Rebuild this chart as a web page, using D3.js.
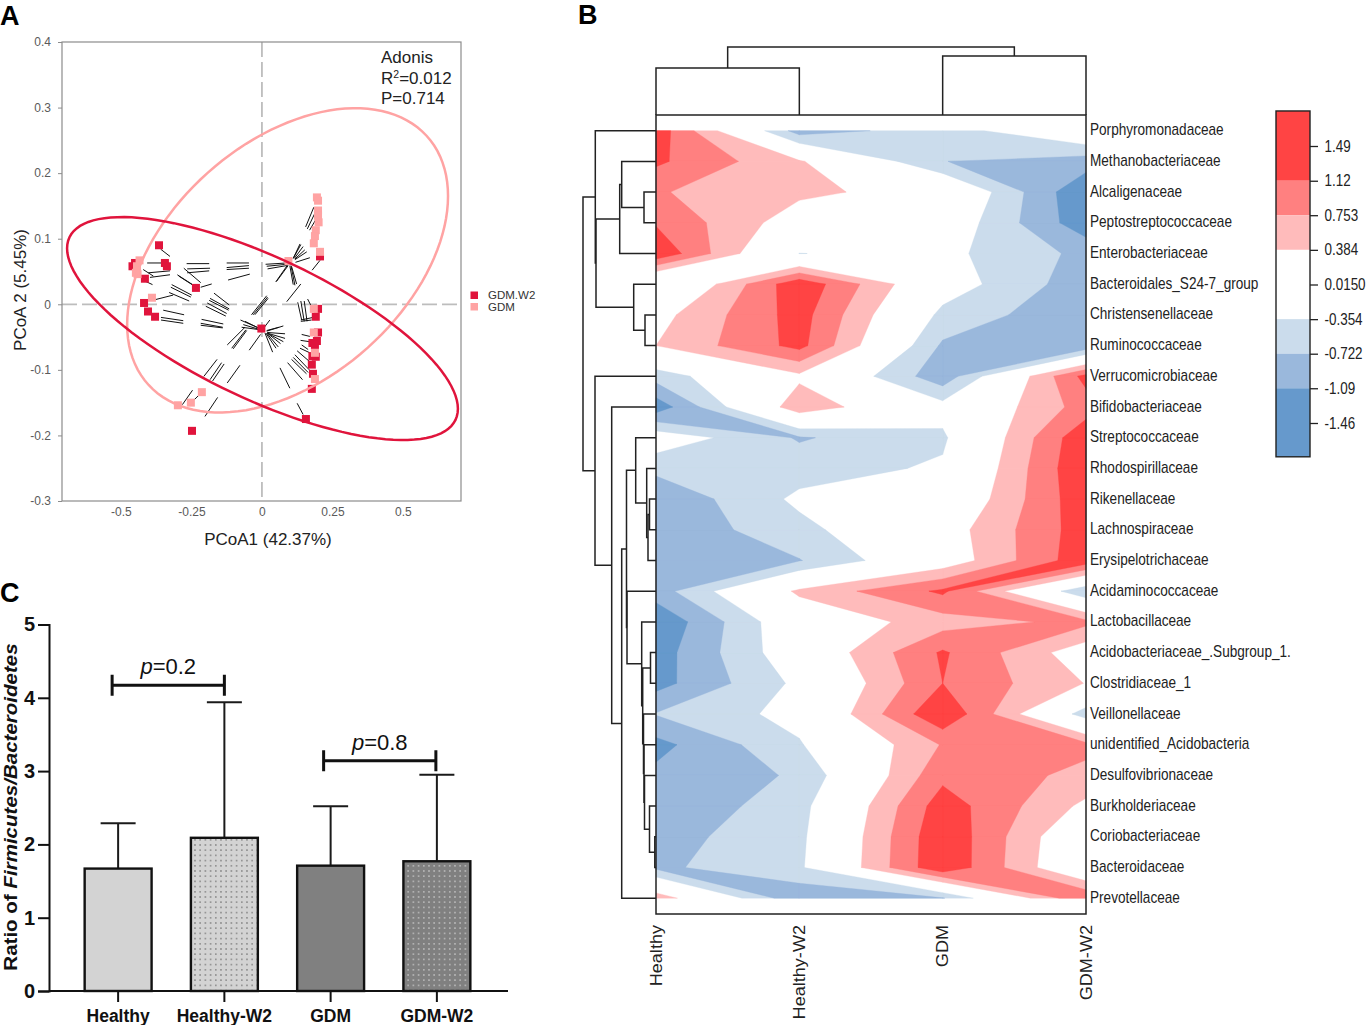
<!DOCTYPE html>
<html><head><meta charset="utf-8">
<style>
html,body{margin:0;padding:0;background:#fff}
svg{display:block}
text{font-family:"Liberation Sans",Arial,sans-serif}
</style>
<script src="https://cdn.jsdelivr.net/npm/d3@7"></script>
</head><body>
<svg id="c" width="1366" height="1025"></svg>
<script>
// ---------- Panel A data (PCoA axes units) ----------
const w2X=[-.365,-.450,-.459,-.344,-.337,-.415,.206,-.234,-.418,-.404,-.379,-.002,.199,.191,.199,.195,.179,.188,.191,.179,.177,.181,.177,.156,-.248];
const w2Y=[.090,.063,.058,.063,.058,.039,.073,.025,.002,-.011,-.019,-.037,-.007,-.019,-.043,-.056,-.059,-.062,-.080,-.079,-.092,-.106,-.129,-.175,-.193];
const gdmX=[.195,.199,.199,.199,.201,.191,.188,.184,.206,.094,-.434,-.443,-.441,-.447,-.390,.184,.184,.188,.188,-.213,-.252,-.298];
const gdmY=[.163,.158,.143,.135,.125,.113,.104,.093,.080,.066,.067,.058,.046,.048,.010,-.007,-.043,-.074,-.114,-.134,-.150,-.154];
const segX1=[-.359,-.407,-.403,-.421,-.397,-.418,-.267,-.265,-.265,-.277,-.300,-.295,-.320,-.323,-.329,-.217,-.379,-.350,-.358,-.358,-.170,-.184,-.187,-.194,-.199,-.214,-.217,-.217,-.125,-.125,-.125,-.120,.111,.111,.115,.117,.117,.119,.013,.017,.020,.049,.052,.111,.117,.123,.088,.178,-.037,-.031,-.025,.162,.127,.138,.150,.138,.138,.155,.161,.169,-.072,-.066,-.076,-.060,-.123,-.107,-.102,-.045,.011,.014,.017,.019,.019,.019,.019,.017,.017,.007,.141,.137,.141,.135,.125,.117,.111,.105,.091,.064,-.206,-.184,-.175,-.123,-.282,-.241,-.202,.125];
const segY1=[.084,.063,.048,.053,.041,.036,.062,.054,.048,.055,.045,.043,.030,.026,.018,.026,.007,-.009,-.020,-.024,.017,.009,.006,.002,-.003,-.023,-.029,-.032,.063,.056,.053,.037,.070,.070,.070,.069,.068,.064,.061,.058,.054,.034,.035,.030,.029,.031,.004,.052,-.016,-.016,-.016,.008,.003,.005,.005,-.024,-.026,.118,.115,.113,-.035,-.031,-.024,-.026,-.062,-.067,-.068,-.070,-.044,-.044,-.044,-.044,-.044,-.044,-.043,-.041,-.040,-.036,-.046,-.055,-.062,-.067,-.071,-.077,-.081,-.084,-.089,-.097,-.110,-.115,-.117,-.120,-.153,-.146,-.171,-.151];
const segX2=[-.326,-.350,-.326,-.385,-.326,-.388,-.187,-.184,-.187,-.217,-.246,-.244,-.249,-.252,-.258,-.178,-.315,-.276,-.279,-.279,-.116,-.116,-.118,-.125,-.128,-.137,-.139,-.139,-.046,-.046,-.046,-.043,.135,.138,.146,.152,.159,.170,.088,.088,.088,.091,.093,.099,.103,.105,.138,.206,.017,.020,.022,.174,.141,.150,.160,.182,.176,.184,.188,.191,-.004,-.004,-.007,-.004,-.060,-.057,-.054,-.005,.038,.050,.058,.066,.076,.082,.082,.076,.061,.028,.170,.168,.164,.170,.168,.168,.164,.158,.144,.099,-.159,-.143,-.134,-.078,-.246,-.222,-.157,.146];
const segY2=[.073,.063,.051,.043,.045,.030,.062,.055,.051,.033,.030,.029,.014,.011,.005,.031,.014,-.016,-.025,-.029,-.001,-.007,-.009,-.014,-.018,-.030,-.035,-.036,.063,.059,.055,.046,.092,.091,.088,.083,.080,.071,.063,.061,.059,.060,.059,.059,.059,.058,.031,.067,.013,.011,.009,-.002,-.024,-.026,-.026,-.020,-.024,.148,.139,.129,-.039,-.039,-.037,-.038,-.035,-.039,-.040,-.046,-.073,-.067,-.065,-.060,-.057,-.052,-.045,-.033,-.035,-.024,-.049,-.057,-.069,-.074,-.087,-.100,-.104,-.106,-.115,-.128,-.084,-.089,-.091,-.093,-.131,-.138,-.142,-.168];
// ellipse parameters in axis units: centre, half extents, phase (degrees)
const ellipseNames=["GDM.W2","GDM"];
const ellipseCx=[.002,.091];
const ellipseCy=[-.037,.067];
const ellipseA=[.693,.569];
const ellipseB=[.170,.232];
const ellipsePhase=[44,115];
const pcoaXTicks=[-.5,-.25,0,.25,.5];
const pcoaXLabels=["-0.5","-0.25","0","0.25","0.5"];
const pcoaYTicks=[.4,.3,.2,.1,0,-.1,-.2,-.3];
const pcoaYLabels=["0.4","0.3","0.2","0.1","0","-0.1","-0.2","-0.3"];

// ---------- Panel B data ----------
const families=["Porphyromonadaceae","Methanobacteriaceae","Alcaligenaceae","Peptostreptococcaceae","Enterobacteriaceae","Bacteroidales_S24-7_group","Christensenellaceae","Ruminococcaceae","Verrucomicrobiaceae","Bifidobacteriaceae","Streptococcaceae","Rhodospirillaceae","Rikenellaceae","Lachnospiraceae","Erysipelotrichaceae","Acidaminococcaceae","Lactobacillaceae","Acidobacteriaceae_.Subgroup_1.","Clostridiaceae_1","Veillonellaceae","unidentified_Acidobacteria","Desulfovibrionaceae","Burkholderiaceae","Coriobacteriaceae","Bacteroidaceae","Prevotellaceae"];
const heatGroups=["Healthy","Healthy-W2","GDM","GDM-W2"];
const healthyZ=[1.35,1.19,.785,1.08,1.44,-.35,.237,.384,-.56,-1.32,-.08,-.62,-1.03,-1.02,-1.02,-.90,-1.41,-1.27,-1.23,-.70,-1.21,-1.0,-1.05,-.88,-.80,.63];
const healthyW2Z=[-.90,.43,.47,.15,-.36,1.40,1.28,1.24,.30,.65,-.76,-.52,-.27,-.47,-.74,.46,.035,-.04,-.26,-.22,-.39,-.675,-.5,-.45,-.42,-1.01];
const gdmZ=[-.54,-.715,.207,-.02,-.25,-.13,-.46,-.78,-.96,-.2,-.42,-.30,-.11,.165,.10,1.19,.58,1.17,1.12,1.46,.78,1.02,1.32,1.43,1.44,-.75];
const gdmW2Z=[.10,-.90,-1.43,-1.33,-.82,-.94,-1.03,-1.0,1.25,.92,1.42,1.47,1.39,1.32,1.37,-.68,.85,.13,.37,-.55,.85,.656,.29,-.10,-.16,1.1];
const redLevels=[.384,.753,1.12];
const redColors=["#FFBBBB","#FF8080","#FF4444"];
const blueLevels=[-.354,-.722,-1.09];
const blueColors=["#CBDCEC","#9AB8DC","#6699CC"];
const barEdges=[1.863,1.12,.753,.384,-.354,-.722,-1.09,-1.82];
const barFills=["#FF4444","#FF8080","#FFBBBB","#FFFFFF","#CBDCEC","#9AB8DC","#6699CC"];
const barTicks=[1.49,1.12,.753,.384,.015,-.354,-.722,-1.09,-1.46];
const barLabels=["1.49","1.12","0.753","0.384","0.0150","-0.354","-0.722","-1.09","-1.46"];
// dendrograms: [merge height, child, child]; a number is a leaf index
const colTree=[68,[47,0,1],[59,2,3]];
const rowTree=[73,
 [60.7,0,[60,[36.3,[34.3,1,[12,2,3]],4],[22.3,5,[11,6,7]]]],
 [61,8,[44.3,9,[34.3,[29.5,[20.3,10,[9.3,11,[8,[6.5,12,13],14]]],
   [29,15,[14.3,16,[13.3,[5.5,17,18],[12.5,19,[12,20,[11.5,21,[6.5,22,[1.2,23,24]]]]]]]]],25]]]];

// ---------- Panel C data ----------
const ratioGroups=["Healthy","Healthy-W2","GDM","GDM-W2"];
const ratioMean=[1.67,2.09,1.71,1.77];
const ratioUpper=[2.29,3.94,2.52,2.95];
const ratioFills=["#D3D3D3","url(#dotDark)","#808080","url(#dotLight)"];
const ratioTicks=[0,1,2,3,4,5];
const pairLabels=["0.2","0.8"];
const pairFrom=["Healthy","GDM"];
const pairTo=["Healthy-W2","GDM-W2"];
const pairLevel=[4.17,3.14];
const pairOffset=[-6,-7];

const svg=d3.select("#c");
const font="'Liberation Sans',Arial,sans-serif";
const defs=svg.append("defs");
[["dotDark","#D3D3D3","#333",.62],["dotLight","#808080","#fff",.62]].forEach(([id,bg,fg,r])=>{
  const p=defs.append("pattern").attr("id",id).attr("width",5.2).attr("height",5.2).attr("patternUnits","userSpaceOnUse");
  p.append("rect").attr("width",5.2).attr("height",5.2).attr("fill",bg);
  p.append("circle").attr("cx",2.6).attr("cy",2.6).attr("r",r).attr("fill",fg);
});

// panel letters
[["A",0,25],["B",578,24],["C",0,602]].forEach(([t,x,y])=>svg.append("text").attr("x",x).attr("y",y).attr("font-size",27).attr("font-weight","bold").attr("fill","#000").text(t));

// ========== A ==========
(function(){
  const x=d3.scaleLinear().domain([-.709,.706]).range([62,461]);
  const y=d3.scaleLinear().domain([-.3,.4]).range([501,42]);
  const g=svg.append("g");
  g.append("line").attr("x1",x(0)).attr("x2",x(0)).attr("y1",42).attr("y2",501).attr("stroke","#BDBDBD").attr("stroke-width",1.8).attr("stroke-dasharray","15 5");
  g.append("line").attr("x1",62).attr("x2",461).attr("y1",y(0)).attr("y2",y(0)).attr("stroke","#BDBDBD").attr("stroke-width",1.8).attr("stroke-dasharray","15 5");
  g.append("g").selectAll("line").data(d3.range(segX1.length)).join("line")
    .attr("x1",i=>x(segX1[i])).attr("y1",i=>y(segY1[i])).attr("x2",i=>x(segX2[i])).attr("y2",i=>y(segY2[i]))
    .attr("stroke","#111").attr("stroke-width",1);
  const s=8;
  g.append("g").selectAll("rect").data(d3.range(w2X.length)).join("rect")
    .attr("x",i=>x(w2X[i])-s/2).attr("y",i=>y(w2Y[i])-s/2).attr("width",s).attr("height",s).attr("fill","#E0143C");
  g.append("g").selectAll("rect").data(d3.range(gdmX.length)).join("rect")
    .attr("x",i=>x(gdmX[i])-s/2).attr("y",i=>y(gdmY[i])-s/2).attr("width",s).attr("height",s).attr("fill","#FFA3A3");
  const eCols=["#E0143C","#FFA3A3"];
  const angles=d3.range(0,361,3);
  [1,0].forEach(k=>{
    const ph=ellipsePhase[k]*Math.PI/180;
    const ln=d3.line().x(t=>x(ellipseCx[k]+ellipseA[k]*Math.cos(t*Math.PI/180))).y(t=>y(ellipseCy[k]-ellipseB[k]*Math.cos(t*Math.PI/180+ph)));
    g.append("path").attr("d",ln(angles)).attr("fill","none").attr("stroke",eCols[k]).attr("stroke-width",2.5);
  });
  g.append("rect").attr("x",62).attr("y",42).attr("width",399).attr("height",459).attr("fill","none").attr("stroke","#8c8c8c").attr("stroke-width",1.2);
  const ay=g.append("g").attr("transform","translate(62,0)").call(d3.axisLeft(y).tickValues(pcoaYTicks).tickFormat((d,i)=>pcoaYLabels[i]).tickSize(4).tickPadding(7));
  ay.select(".domain").remove();
  const ax=g.append("g").attr("transform","translate(0,501)").call(d3.axisBottom(x).tickValues(pcoaXTicks).tickFormat((d,i)=>pcoaXLabels[i]).tickSize(0).tickPadding(6));
  ax.select(".domain").remove();
  [ay,ax].forEach(a=>{a.selectAll("text").attr("fill","#5a5a5a").attr("font-size",12).attr("font-family",font);a.selectAll("line").attr("stroke","#8c8c8c");});
  const tx=(t,xx,yy,fs,col)=>g.append("text").attr("x",xx).attr("y",yy).attr("font-size",fs).attr("fill",col||"#222").text(t);
  tx("Adonis",381,62.5,17);
  const r2=g.append("text").attr("x",381).attr("y",83.5).attr("font-size",17).attr("fill","#222");
  r2.append("tspan").text("R");r2.append("tspan").attr("font-size",10.5).attr("dy",-6).text("2");r2.append("tspan").attr("dy",6).text("=0.012");
  tx("P=0.714",381,104,17);
  g.append("text").attr("x",268).attr("y",545).attr("text-anchor","middle").attr("font-size",17).attr("fill","#222").text("PCoA1 (42.37%)");
  g.append("text").attr("transform","translate(26,290) rotate(-90)").attr("text-anchor","middle").attr("font-size",17).attr("fill","#222").text("PCoA 2 (5.45%)");
  ellipseNames.forEach((n,i)=>{
    g.append("rect").attr("x",470.5).attr("y",291.5+11.5*i).attr("width",7.5).attr("height",7.5).attr("fill",eCols[i]);
    g.append("text").attr("x",488).attr("y",299+11.5*i).attr("font-size",11.5).attr("fill","#333").text(n);
  });
})();

// ========== B ==========
(function(){
  const nx=heatGroups.length, ny=families.length;
  const colX=d3.scaleLinear().domain([0,nx-1]).range([656,1086]);
  const rowY=d3.scaleLinear().domain([0,ny-1]).range([130.7,898.2]);
  const cols=[healthyZ,healthyW2Z,gdmZ,gdmW2Z];
  const ln=d3.line().x(p=>colX(p[0])).y(p=>rowY(p[1]));

  // marching squares, one polygon set per cell; ambiguous cells join the diagonal whose ends differ least
  function cellPolys(i,j,sign,t){
    const c=[[i,j],[i+1,j],[i+1,j+1],[i,j+1]];
    const v=c.map(p=>sign*cols[p[0]][p[1]]);
    const hi=v.map(a=>a>=t);
    const cross=(a,b)=>{const f=(t-v[a])/(v[b]-v[a]);return [c[a][0]+f*(c[b][0]-c[a][0]),c[a][1]+f*(c[b][1]-c[a][1])];};
    const saddle=hi[0]===hi[2]&&hi[1]===hi[3]&&hi[0]!==hi[1];
    if(saddle){
      const mainJoin=Math.abs(v[0]-v[2])<=Math.abs(v[1]-v[3]);
      if(hi[0]!==mainJoin){
        const ks=hi[0]?[0,2]:[1,3];
        return ks.map(k=>[cross(k,(k+3)%4),c[k],cross(k,(k+1)%4)]);
      }
    }
    const pts=[];
    for(let k=0;k<4;k++){
      const n=(k+1)%4;
      if(hi[k]) pts.push(c[k]);
      if(hi[k]!==hi[n]) pts.push(cross(k,n));
    }
    return pts.length>2?[pts]:[];
  }
  function levelPath(sign,t){
    let d="";
    for(let i=0;i<nx-1;i++) for(let j=0;j<ny-1;j++)
      cellPolys(i,j,sign,t).forEach(p=>{d+=ln(p)+"Z";});
    return d;
  }
  const g=svg.append("g");
  redLevels.forEach((t,i)=>g.append("path").attr("d",levelPath(1,t)).attr("fill",redColors[i]).attr("stroke",redColors[i]).attr("stroke-width",.35));
  blueLevels.forEach((t,i)=>g.append("path").attr("d",levelPath(-1,-t)).attr("fill",blueColors[i]).attr("stroke",blueColors[i]).attr("stroke-width",.35));
  svg.append("rect").attr("x",656).attr("y",115).attr("width",430).attr("height",799).attr("fill","none").attr("stroke","#222").attr("stroke-width",1.5);

  // row labels
  svg.append("g").selectAll("text").data(families).join("text")
    .attr("transform",(d,i)=>`translate(1090,${rowY(i)+4.5}) scale(.85,1)`).attr("font-size",16).attr("fill","#222").text(d=>d);
  // column labels
  svg.append("g").selectAll("text").data(heatGroups).join("text")
    .attr("transform",(d,i)=>`translate(${colX(i)+5.5},925) rotate(-90) scale(1.13,1)`).attr("text-anchor","end").attr("font-size",16).attr("fill","#222").text(d=>d);

  // dendrograms
  const rh=d3.scaleLinear().domain([0,73]).range([656,583]);
  const ch=d3.scaleLinear().domain([0,68]).range([115,47]);
  const lineGen=d3.line();
  function walk(node,pos,hs,out,flip){
    if(typeof node==="number") return {p:pos(node),h:hs(0)};
    const a=walk(node[1],pos,hs,out,flip), b=walk(node[2],pos,hs,out,flip), h=hs(node[0]);
    const pts=[[a.h,a.p],[h,a.p],[h,b.p],[b.h,b.p]];
    out.push(flip?pts.map(q=>[q[1],q[0]]):pts);
    return {p:(a.p+b.p)/2,h};
  }
  const rowSegs=[],colSegs=[];
  walk(rowTree,rowY,rh,rowSegs,false);
  walk(colTree,colX,ch,colSegs,true);
  svg.append("g").selectAll("path").data(rowSegs.concat(colSegs)).join("path").attr("d",lineGen).attr("fill","none").attr("stroke","#222").attr("stroke-width",1.5);

  // colour key
  const ky=d3.scaleLinear().domain([1.49,-1.46]).range([146,423]);
  const k=svg.append("g");
  k.selectAll("rect").data(barFills).join("rect").attr("x",1276).attr("width",34)
    .attr("y",(d,i)=>ky(barEdges[i])).attr("height",(d,i)=>ky(barEdges[i+1])-ky(barEdges[i])).attr("fill",d=>d);
  k.append("rect").attr("x",1276).attr("y",ky(barEdges[0])).attr("width",34).attr("height",ky(barEdges[7])-ky(barEdges[0])).attr("fill","none").attr("stroke","#222").attr("stroke-width",1.4);
  const ka=k.append("g").attr("transform","translate(1310,0)").call(d3.axisRight(ky).tickValues(barTicks).tickFormat((d,i)=>barLabels[i]).tickSize(8).tickPadding(7));
  ka.select(".domain").remove();
  ka.selectAll("line").attr("stroke","#222").attr("stroke-width",1.3);
  ka.selectAll("text").attr("font-size",16).attr("font-family",font).attr("fill","#222").attr("x",14.5/.84).attr("transform","scale(.84,1)");
})();

// ========== C ==========
(function(){
  const y=d3.scaleLinear().domain([0,5]).range([991,624.5]);
  const x=d3.scaleBand().domain(ratioGroups).range([65,490]).paddingInner(.37).paddingOuter(.185);
  const g=svg.append("g");
  const cx=d=>x(d)+x.bandwidth()/2;
  // error bars
  const e=g.append("g").selectAll("g").data(ratioGroups).join("g");
  e.append("line").attr("x1",cx).attr("x2",cx).attr("y1",(d,i)=>y(ratioMean[i])).attr("y2",(d,i)=>y(ratioUpper[i]));
  e.append("line").attr("x1",d=>cx(d)-17.5).attr("x2",d=>cx(d)+17.5).attr("y1",(d,i)=>y(ratioUpper[i])).attr("y2",(d,i)=>y(ratioUpper[i]));
  e.selectAll("line").attr("stroke","#1a1a1a").attr("stroke-width",2);
  g.append("g").selectAll("rect").data(ratioGroups).join("rect")
    .attr("x",d=>x(d)).attr("width",x.bandwidth()).attr("y",(d,i)=>y(ratioMean[i])).attr("height",(d,i)=>y(0)-y(ratioMean[i]))
    .attr("fill",(d,i)=>ratioFills[i]).attr("stroke","#111").attr("stroke-width",2.4);
  const ay=g.append("g").attr("transform","translate(49,0)").call(d3.axisLeft(y).tickValues(ratioTicks).tickFormat(d3.format("d")).tickSize(11).tickPadding(3));
  const ax=g.append("g").attr("transform","translate(0,991)").call(d3.axisBottom(x).tickSize(11).tickPadding(8));
  ax.select(".domain").attr("d","M49,0H508");
  [ay,ax].forEach(a=>{a.selectAll("path,line").attr("stroke","#111").attr("stroke-width",2);a.selectAll("text").attr("fill","#111").attr("font-family",font).attr("font-weight","bold");});
  ay.selectAll("text").attr("font-size",20);
  ax.selectAll("text").attr("font-size",17.5);
  const yl=g.append("text").attr("transform","translate(17,807) rotate(-90) scale(1.11,1)").attr("text-anchor","middle").attr("font-size",18.5).attr("font-weight","bold").attr("fill","#111");
  yl.append("tspan").text("Ratio of ");
  yl.append("tspan").attr("font-style","italic").text("Firmicutes/Bacteroidetes");
  pairLabels.forEach((lab,i)=>{
    const a=cx(pairFrom[i])+pairOffset[i], b=cx(pairTo[i])-(i?1:0), yy=y(pairLevel[i]);
    g.append("path").attr("d",`M${a},${yy-10.5}V${yy+10.5}M${a},${yy}H${b}M${b},${yy-10.5}V${yy+10.5}`).attr("fill","none").attr("stroke","#111").attr("stroke-width",3);
    const t=g.append("text").attr("x",(a+b)/2).attr("y",yy-11).attr("text-anchor","middle").attr("font-size",22).attr("fill","#111");
    t.append("tspan").attr("font-style","italic").text("p");
    t.append("tspan").text("="+lab);
  });
})();
</script>
</body></html>
